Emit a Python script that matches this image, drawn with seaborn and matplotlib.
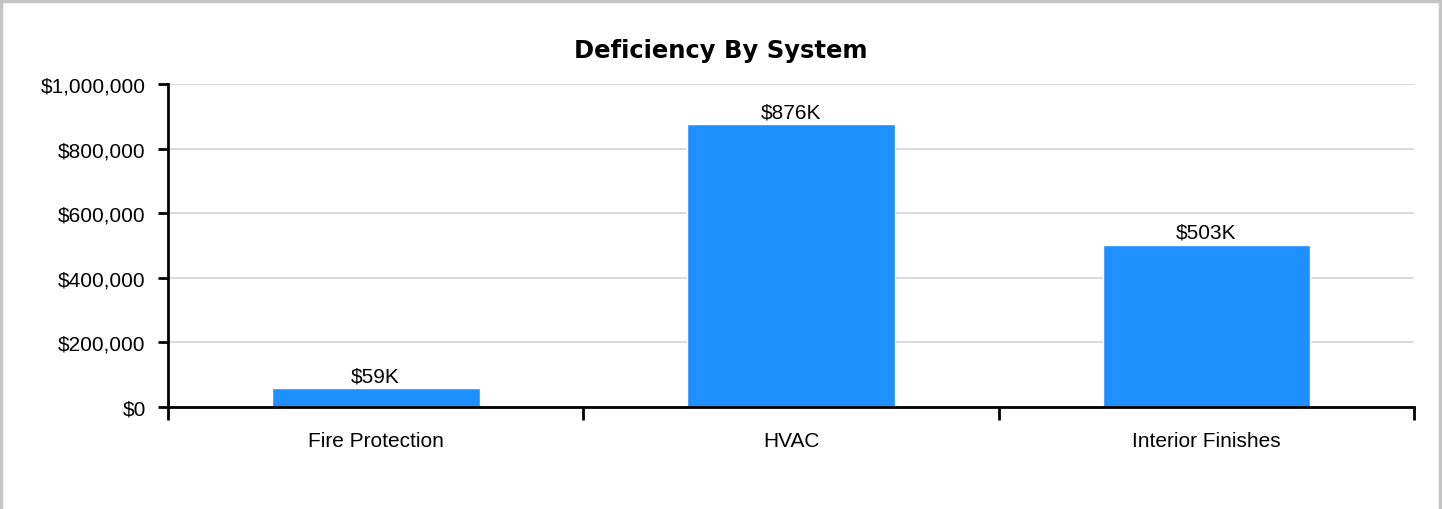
import pandas as pd
import matplotlib
matplotlib.use("Agg")
import matplotlib.pyplot as plt
import seaborn as sns
from matplotlib.ticker import FuncFormatter, FixedLocator
from matplotlib.lines import Line2D

sns.set_style("white")
plt.rcParams["font.family"] = ["Liberation Sans", "DejaVu Sans"]
plt.rcParams["text.color"] = "black"
plt.rcParams["xtick.color"] = "black"
plt.rcParams["ytick.color"] = "black"

systems = ["Fire Protection", "HVAC", "Interior Finishes"]
costs = [59000, 876000, 503000]
bar_labels = ["$59K", "$876K", "$503K"]

df = pd.DataFrame({"system": systems, "cost": costs})

fig = plt.figure(figsize=(14.42, 5.10), dpi=100)
ax = fig.add_axes([168 / 1442, 1 - 408 / 510, (1414 - 168) / 1442, (408 - 85) / 510])

sns.barplot(data=df, x="system", y="cost", color="#1E90FF", width=0.5,
            saturation=1, ax=ax, zorder=3)

ax.set_xlim(-0.5, 2.5)
ax.set_ylim(0, 1000000)
ax.set_yticks(range(0, 1000001, 200000))
ax.yaxis.set_major_formatter(FuncFormatter(lambda v, p: f"${v:,.0f}"))
ax.grid(axis="y", color="#d4d4d4", linewidth=1.2, zorder=0)
ax.set_axisbelow(True)

for s in ["top", "right"]:
    ax.spines[s].set_visible(False)
for s in ["left", "bottom"]:
    ax.spines[s].set_color("black")
    ax.spines[s].set_linewidth(2)
    ax.spines[s].set_zorder(4)

ax.tick_params(axis="y", length=7, width=2, labelsize=15, pad=9, left=True)
ax.tick_params(axis="x", which="major", length=0, labelsize=15, pad=17)
ax.xaxis.set_minor_locator(FixedLocator([-0.5, 0.5, 1.5, 2.5]))
ax.tick_params(axis="x", which="minor", length=9, width=2, bottom=True)

ax.set_xlabel("")
ax.set_ylabel("")

for i, c in enumerate(costs):
    ax.annotate(bar_labels[i], (i, c), xytext=(0, 2), textcoords="offset points",
                ha="center", va="bottom", fontsize=15, zorder=5)

fig.text(0.5, 1 - 51 / 510, "Deficiency By System", fontsize=17.5, fontweight="bold",
         family=["DejaVu Sans"], ha="center", va="center")

# light grey frame on left, top and right
for xs, ys in [([0.001, 0.001], [0, 1]), ([0, 1], [0.997, 0.997]), ([0.9985, 0.9985], [0, 1])]:
    fig.add_artist(Line2D(xs, ys, transform=fig.transFigure, color="#c4c4c4", linewidth=2.5))

fig.savefig("out.png", dpi=100)
